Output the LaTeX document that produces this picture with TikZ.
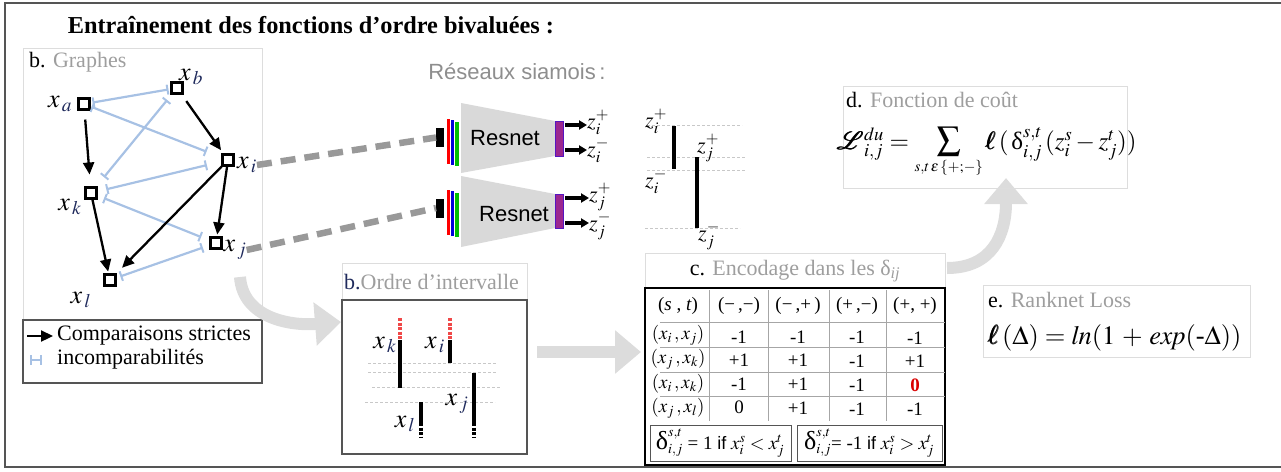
\documentclass[tikz,border=0pt]{standalone}
\usepackage{amsmath}
\usepackage{mathptmx}
\usepackage{fontspec}
\setmainfont{Liberation Serif}
\setsansfont{Liberation Sans}
\usetikzlibrary{arrows.meta}
\definecolor{incblue}{HTML}{A7C1E4}
\definecolor{ttlgray}{HTML}{9E9E9E}
\definecolor{bigc}{HTML}{DCDCDC}
\definecolor{netc}{HTML}{D9D9D9}
\definecolor{purp}{HTML}{9B278F}
\definecolor{dashc}{HTML}{999999}
\definecolor{navy}{HTML}{1F2A5C}
\definecolor{redd}{HTML}{F04848}
\definecolor{panelc}{HTML}{DDDDDD}
\definecolor{dpanelc}{HTML}{555555}
\definecolor{framec}{HTML}{555555}
\definecolor{guidec}{HTML}{C8C8C8}
\newcommand{\fsz}[1]{\fontsize{#1}{#1}\selectfont}
\newcommand{\gx}[1]{$x_{\,\textcolor{navy}{#1}}$}
\begin{document}
\begin{tikzpicture}[x=1pt,y=-1pt,
  sq/.style={draw=black,line width=2.6pt,minimum size=10.5pt,inner sep=0pt},
  strict/.style={line width=2.3pt,-{Triangle[length=12pt,width=11pt]}},
  inc/.style={draw=incblue,line width=2.2pt,{Bar[width=10pt,line width=2pt]}-{Bar[width=10pt,line width=2pt]}},
  lab/.style={font=\fsz{26},inner sep=0pt},
  panel/.style={draw=panelc,line width=0.9pt},
  dpanel/.style={draw=dpanelc,line width=1.1pt},
  bigarr/.style={draw=bigc,line width=12pt,-{Triangle[length=26pt,width=42pt]}},
  dashconn/.style={draw=dashc,line width=6.5pt,dash pattern=on 15pt off 9pt},
  zl/.style={font=\fsz{22},inner sep=0pt},
  zarr/.style={line width=3.5pt,-{Triangle[length=8pt,width=9pt]}},
  purpbox/.style={fill=purp,draw=blue!45!purp,line width=0.6pt,minimum width=8pt,inner sep=0pt},
  inblk/.style={fill=black,minimum width=7.5pt,minimum height=19pt,inner sep=0pt},
  lay/.style={draw=white,line width=0.4pt},
  ibar/.style={line width=4pt},
  rbar/.style={draw=redd,line width=4pt,dash pattern=on 3pt off 1.5pt},
  kbar/.style={line width=4pt,dash pattern=on 3pt off 1.5pt},
  guide/.style={draw=guidec,line width=0.6pt,dash pattern=on 3pt off 2pt},
  tcell/.style={font=\fsz{19},inner sep=0pt},
  grid/.style={draw=gray!70,line width=0.8pt}
]
\useasboundingbox (0,0) rectangle (1281,471);
% frame
\draw[framec,line width=1.4pt] (1285,3) -- (5,3) -- (5,467) -- (1285,467);
% title
\node[font=\fsz{24.3}\bfseries] (title) at (311,25) {Entraînement des fonctions d’ordre bivaluées :};

% ---------- graph panel
\draw[panel] (23,48) rectangle (262,320);
\node[anchor=west,font=\fsz{22},inner sep=0pt] (gt) at (29,62) {b. \textcolor{ttlgray}{Graphes}};
\draw[dpanel] (23,320) rectangle (262,383);

\node[sq] (a) at (84,104) {};
\node[sq] (b) at (177,88) {};
\node[sq] (i) at (228,160) {};
\node[sq] (k) at (91,193) {};
\node[sq] (j) at (216,243) {};
\node[sq] (l) at (110,280) {};

\node[lab] (la) at (60,104) {\gx{a}};
\node[lab] (lb) at (191,77) {\gx{b}};
\node[lab] (li) at (247,165) {\gx{i}};
\node[lab] (lk) at (70,207) {\gx{k}};
\node[lab] (lj) at (235,250) {\gx{j}};
\node[lab] (ll) at (81,300) {\gx{l}};

\draw[inc,shorten <=2pt,shorten >=2pt] (a) -- (b);
\draw[inc,shorten <=1pt,shorten >=16pt] (a) -- (i);
\draw[inc,shorten <=12pt,shorten >=7pt] (k) -- (b);
\draw[inc,shorten <=9pt,shorten >=15pt] (k) -- (i);
\draw[inc,shorten <=7pt,shorten >=9pt] (k) -- (j);
\draw[inc,shorten <=4pt,shorten >=7pt] (l) -- (j);

\draw[strict,shorten <=9pt,shorten >=12pt] (a) -- (k);
\draw[strict,shorten <=8pt,shorten >=4pt] (b) -- (i);
\draw[strict,shorten >=2pt] (i) -- (j);
\draw[strict,shorten >=8pt] (i) -- (l);
\draw[strict,shorten >=2pt] (k) -- (l);

% legend
\coordinate (lg1) at (27,336); \coordinate (lg2) at (53,336);
\draw[strict] (lg1) -- (lg2);
\node[anchor=west,font=\fsz{22},inner sep=0pt] (lt1) at (57,336) {Comparaisons strictes};
\coordinate (lh1) at (30,360); \coordinate (lh2) at (42,360);
\draw[inc] (lh1) -- (lh2);
\node[anchor=west,font=\fsz{22},inner sep=0pt] (lt2) at (57,359) {incomparabilités};

% ---------- siamese networks
\node[font=\sffamily\fsz{22},text=ttlgray!90!black] (rs) at (517,72) {Réseaux siamois\,:};

% network 1
\node[inblk] (in1) at (440,137.5) {};
\filldraw[lay,fill=red] (446.5,118) rectangle (450.5,164);
\filldraw[lay,fill=blue!85!black] (450.5,119.5) rectangle (454.5,165);
\filldraw[lay,fill=green!75!black] (454.5,121) rectangle (459,166);
\fill[netc] (461,103) -- (555,121) -- (555,156) -- (461,173) -- cycle;
\node[font=\sffamily\fsz{22}] (r1) at (505,138) {Resnet};
\node[purpbox,minimum height=35pt] (p1) at (559,138.5) {};
\node[zl,anchor=base west] (z1p) at (587,128) {$z_i^{+}$};
\node[zl,anchor=base west] (z1m) at (587,156) {$z_i^{-}$};
\coordinate (e1p) at (587,125); \coordinate (e1m) at (587,150);
\draw[zarr] ([xshift=2pt]p1.east |- e1p) -- (e1p);
\draw[zarr] ([xshift=2pt]p1.east |- e1m) -- (e1m);

% network 2
\node[inblk] (in2) at (440,208) {};
\filldraw[lay,fill=red] (446.5,189) rectangle (450.5,235);
\filldraw[lay,fill=blue!85!black] (450.5,190.5) rectangle (454.5,236);
\filldraw[lay,fill=green!75!black] (454.5,192) rectangle (459,237);
\fill[netc] (461,176) -- (555,194) -- (555,228) -- (461,247) -- cycle;
\node[font=\sffamily\fsz{22}] (r2) at (514,214) {Resnet};
\node[purpbox,minimum height=34pt] (p2) at (559,211) {};
\node[zl,anchor=base west] (z2p) at (589,201) {$z_j^{+}$};
\node[zl,anchor=base west] (z2m) at (589,230) {$z_j^{-}$};
\coordinate (e2p) at (589,198); \coordinate (e2m) at (589,223);
\draw[zarr] ([xshift=2pt]p2.east |- e2p) -- (e2p);
\draw[zarr] ([xshift=2pt]p2.east |- e2m) -- (e2m);

% dashed connectors
\draw[dashconn] (li.east) -- (in1.west);
\draw[dashconn] (lj.east) -- (in2.west);

% interval z
\draw[guide] (647,125) -- (742,125);
\draw[guide] (647,157) -- (745,157);
\draw[guide] (647,170) -- (745,170);
\draw[guide] (645,228) -- (740,228);
\draw[ibar] (674,126) -- (674,169);
\draw[ibar] (697,157) -- (697,228);
\node[zl,anchor=base west] (iz1) at (645,127) {$z_i^{+}$};
\node[zl,anchor=base west] (iz2) at (645,187) {$z_i^{-}$};
\node[zl,anchor=base west] (iz3) at (697,152) {$z_j^{+}$};
\node[zl,anchor=base west] (iz4) at (698,240) {$z_j^{-}$};

% ---------- ordre d'intervalle
\draw[panel] (342,263) rectangle (527,300);
\node[anchor=west,font=\fsz{22},inner sep=0pt] (ot) at (344,282) {\textcolor{navy}{b.}\textcolor{ttlgray}{Ordre d’intervalle}};
\draw[dpanel] (342,300) rectangle (527,454);
\draw[guide] (368,363) -- (497,363);
\draw[guide] (368,372) -- (497,372);
\draw[guide] (372,387) -- (500,387);
\draw[guide] (365,402) -- (495,402);
\draw[rbar] (400,318) -- (400,340);
\draw[ibar] (400,340) -- (400,388);
\draw[rbar] (450,318) -- (450,340);
\draw[ibar] (450,340) -- (450,363);
\draw[ibar] (474,373) -- (474,423);
\draw[kbar] (474,423) -- (474,437);
\draw[ibar] (421,402) -- (421,423);
\draw[kbar] (421,423) -- (421,437);
\node[lab] (ok) at (385,345) {\gx{k}};
\node[lab] (oi) at (435,345) {\gx{i}};
\node[lab] (oj) at (457,404) {\gx{j}};
\node[lab] (ol) at (405,424) {\gx{l}};

% ---------- big arrows
\coordinate (ba1s) at (240,277); \coordinate (ba1e) at (341,322);
\draw[bigarr] (ba1s) .. controls (243,318) and (290,326) .. (ba1e);
\coordinate (ba2s) at (537,352); \coordinate (ba2e) at (641,352);
\draw[bigarr] (ba2s) -- (ba2e);
\coordinate (ba3s) at (947,268); \coordinate (ba3e) at (1006,178);
\draw[bigarr] (ba3s) .. controls (992,268) and (1006,235) .. (ba3e);

% ---------- encodage table
\draw[panel] (645,253) rectangle (945,288);
\node[font=\fsz{22},inner sep=0pt] (ct) at (795,271) {c. \textcolor{ttlgray}{Encodage dans les δ\textsubscript{\textit{ij}}}};
\draw[black,line width=1.3pt] (645,288) rectangle (945,465);
\foreach \yy in {322,347,372,396} {\draw[grid] (660,\yy) -- (945,\yy);}
\foreach \xx in {709,768,829,886} {\draw[grid] (\xx,290) -- (\xx,421);}
\node[tcell] (h0) at (678,306) {(\textit{s} , \textit{t})};
\node[tcell] (h1) at (739,306) {(−\,,−)};
\node[tcell] (h2) at (798,306) {(−\,,+\,)};
\node[tcell] (h3) at (857,306) {(+\,,−)};
\node[tcell] (h4) at (915,306) {(+, +)};
\node[tcell] (r10) at (678,335) {$(x_{i}\,, x_{j})$};
\node[tcell] (r20) at (678,359) {$(x_{j}\,, x_{k})$};
\node[tcell] (r30) at (678,384) {$(x_{i}\,, x_{k})$};
\node[tcell] (r40) at (678,408) {$(x_{j}\,, x_{l})$};
\node[tcell] at (739,337) {-1}; \node[tcell] at (798,337) {-1}; \node[tcell] at (857,337) {-1}; \node[tcell] at (915,338) {-1};
\node[tcell] at (739,360) {+1}; \node[tcell] at (798,360) {+1}; \node[tcell] at (857,361) {-1}; \node[tcell] at (915,361) {+1};
\node[tcell] at (739,384) {-1}; \node[tcell] at (798,384) {+1}; \node[tcell] at (857,385) {-1}; \node[tcell] at (915,385) {\textcolor{red!85!black}{\textbf{0}}};
\node[tcell] at (739,407) {0}; \node[tcell] at (798,408) {+1}; \node[tcell] at (857,409) {-1}; \node[tcell] at (915,409) {-1};
\draw[dpanel,line width=1pt] (650,425) rectangle (791,461);
\draw[dpanel,line width=1pt] (797,425) rectangle (942,461);
\node[tcell] (f1) at (720,443) {$\mbox{\fsz{26}δ}^{s,t}_{i,j}$ = 1 {\sffamily\fsz{18}if} $x^{s}_{i} < x^{t}_{j}$};
\node[tcell] (f2) at (869,443) {$\mbox{\fsz{26}δ}^{s,t}_{i,j}$= -1 {\sffamily\fsz{18}if} $x^{s}_{i} > x^{t}_{j}$};

% ---------- fonction de cout
\draw[panel] (843,86) rectangle (1127,188);
\node[anchor=west,font=\fsz{22},inner sep=0pt] (dt) at (846,100) {d. \textcolor{ttlgray}{Fonction de coût}};
\node[font=\fsz{25},inner sep=0pt] (df) at (987,152) {$\pmb{\mathcal{L}}^{du}_{i,j}\;{=}\,\mathop{\mbox{\fsz{34}$\sum$}}\limits_{\scriptscriptstyle s,t\,\epsilon\,\{+;-\}}\pmb{\ell}\,(\,\mbox{δ}^{s,t}_{i,j}\,(z^{s}_{i}-z^{t}_{j}))$};

% ---------- ranknet
\draw[panel] (983,285) rectangle (1250,357);
\node[anchor=west,font=\fsz{22},inner sep=0pt] (et) at (988,300) {e. \textcolor{ttlgray}{Ranknet Loss}};
\node[anchor=west,font=\fsz{26.5},inner sep=0pt] (ef) at (988,338) {$\pmb{\ell}\,(\Delta) = \mathit{ln}(1\,+\,\mathit{exp}(\mbox{-}\Delta))$};
\end{tikzpicture}
\end{document}
